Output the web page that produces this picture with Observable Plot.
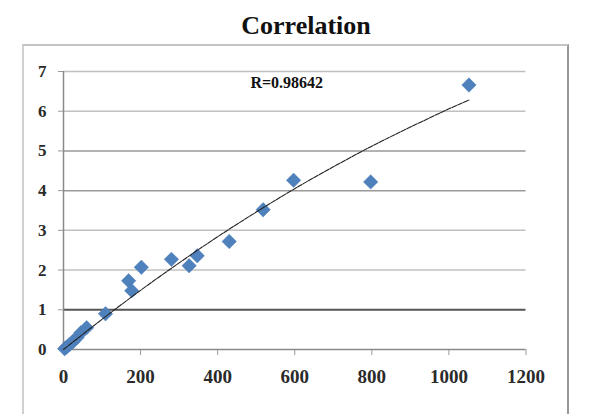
<!DOCTYPE html>
<html>
<head>
<meta charset="utf-8">
<script src="https://cdn.jsdelivr.net/npm/d3@7"></script>
<script src="https://cdn.jsdelivr.net/npm/@observablehq/plot@0.6"></script>
<style>
  html, body { margin: 0; padding: 0; background: #fff; }
  body { width: 595px; height: 414px; position: relative; overflow: hidden; }
  #title { height: 45px; box-sizing: border-box; padding-top: 13px; padding-left: 17px; text-align: center;
           font: bold 26px "Liberation Serif", "Times New Roman", serif; color: #111; line-height: 26px; }
  #frame { position: absolute; left: 22px; top: 44px; width: 543px; height: 400px;
           border-top: 2px solid #c4c4c4; border-left: 2px solid #d0d0d0; border-right: 2px solid #999; }
  #chart { position: absolute; left: 0; top: 45px; }
</style>
</head>
<body>
<div id="title">Correlation</div>
<div id="frame"></div>
<div id="chart"></div>
<script>
const xValues = [3, 8, 15, 25, 35, 45, 60, 109, 169, 177, 202, 280, 326, 347, 430, 518, 597, 797, 1052];
const yValues = [0.02, 0.06, 0.12, 0.2, 0.3, 0.42, 0.55, 0.9, 1.73, 1.48, 2.07, 2.27, 2.11, 2.36, 2.72, 3.52, 4.26, 4.22, 6.66];

// Trend line
const trendX = [0, 100, 200, 300, 400, 500, 600, 700, 800, 900, 1000, 1052];
const trendY = [0, 0.76, 1.49, 2.18, 2.84, 3.46, 4.05, 4.6, 5.12, 5.6, 6.06, 6.28];

// Axis ticks
const xTicks = [0, 200, 400, 600, 800, 1000, 1200];
const yTicks = [0, 1, 2, 3, 4, 5, 6, 7];

const annotation = "R=0.98642";

const points = xValues.map((x, i) => ({x, y: yValues[i]}));
const trend = trendX.map((x, i) => ({x, y: trendY[i]}));

const gridColor = v => v === 1 ? "#555" : (v === 4 || v === 5) ? "#999" : "#c0c0c0";
const gridWidth = v => v === 1 ? 2 : 1.5;

const chart = Plot.plot({
  width: 595,
  height: 369,
  marginLeft: 63,
  marginRight: 69.5,
  marginTop: 26,
  marginBottom: 65,
  x: {domain: [0, 1200]},
  y: {domain: [0, 7]},
  style: {background: "transparent", overflow: "visible"},
  marks: [
    Plot.ruleY(yTicks.filter(v => v > 0), {y: d => d, x1: 0, x2: 1200,
      stroke: d => gridColor(d), strokeWidth: d => gridWidth(d)}),
    Plot.axisY({ticks: yTicks, tickFormat: d => String(d), label: null, tickSize: 5, tickPadding: 12, stroke: "#999",
      fontSize: 17, fontWeight: "bold", fontFamily: "Liberation Serif, serif", fill: "#2a2a2a"}),
    Plot.axisX({ticks: xTicks, tickFormat: d => String(d), label: null, tickSize: 6, tickPadding: 14, stroke: "#999",
      fontSize: 19, fontWeight: "bold", fontFamily: "Liberation Serif, serif", fill: "#2a2a2a"}),
    Plot.ruleX([0], {y1: 0, y2: 7, stroke: "#8a8a8a", strokeWidth: 1.5}),
    Plot.ruleY([0], {x1: 0, x2: 1200, stroke: "#8a8a8a", strokeWidth: 1.5}),
    Plot.dot(points, {x: "x", y: "y", symbol: "diamond2", r: 6.5, fill: "#4f81bd", stroke: "#4a7ab5", strokeWidth: 0.5}),
    Plot.line(trend, {x: "x", y: "y", curve: "natural", stroke: "#222", strokeWidth: 1.1, strokeDasharray: "5,1.2"}),
    Plot.text([annotation], {frameAnchor: "top", lineAnchor: "top", dx: -8, dy: 5, text: d => d,
      fontSize: 16, fontWeight: "bold", fontFamily: "Liberation Serif, serif", fill: "#111"})
  ]
});
document.getElementById("chart").appendChild(chart);
</script>
</body>
</html>
